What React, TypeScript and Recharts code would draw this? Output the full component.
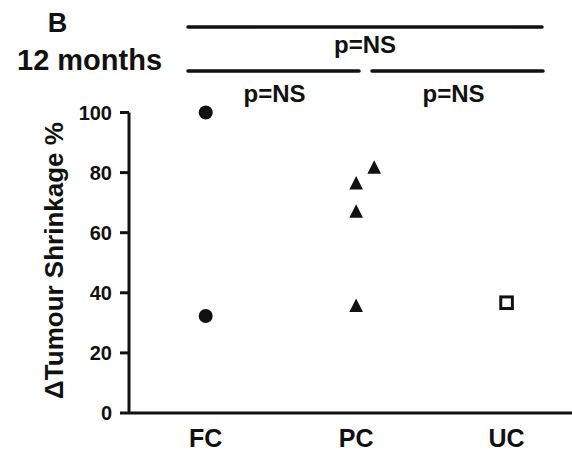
import React from 'react';
import { ScatterChart, Scatter, XAxis, YAxis } from 'recharts';

const categories = ['FC', 'PC', 'UC'];
const yTicks = [0, 20, 40, 60, 80, 100];

const fcX = [1, 1];
const fcValues = [100, 32.3];

const pcX = [2.12, 2, 2, 2];
const pcValues = [81.8, 76.5, 67.1, 35.8];

const ucX = [3];
const ucValues = [36.7];

const panelLabel = 'B';
const timeLabel = '12 months';
const yLabel = '\u0394Tumour Shrinkage %';
const pLabel = 'p=NS';

const toPoints = (xs: number[], ys: number[]) => ys.map((y, i) => ({ x: xs[i], y }));

const fcData = toPoints(fcX, fcValues);
const pcData = toPoints(pcX, pcValues);
const ucData = toPoints(ucX, ucValues);

const FONT = '"Liberation Sans", Arial, Helvetica, sans-serif';
const INK = '#111';

const Circle = (props: any) => {
  const { cx, cy } = props;
  return <circle cx={cx} cy={cy} r={7} fill={INK} />;
};

const Triangle = (props: any) => {
  const { cx, cy } = props;
  return (
    <polygon
      points={`${cx},${cy - 7} ${cx + 6.8},${cy + 6.5} ${cx - 6.8},${cy + 6.5}`}
      fill={INK}
    />
  );
};

const Square = (props: any) => {
  const { cx, cy } = props;
  return (
    <rect x={cx - 5.8} y={cy - 5.8} width={11.6} height={11.6} fill="#fff" stroke={INK} strokeWidth={3} />
  );
};

export default function App() {
  return (
    <div style={{ position: 'absolute', left: 0, top: 0, width: 572, height: 453, background: '#fff' }}>
      <ScatterChart
        width={572}
        height={453}
        margin={{ top: 112.5, right: 0, bottom: 0, left: 0 }}
        style={{ fontFamily: FONT }}
      >
        <XAxis
          type="number"
          dataKey="x"
          domain={[0.49, 3.435]}
          allowDataOverflow
          ticks={[1, 2, 3]}
          tickFormatter={(v: number) => categories[Math.round(v) - 1]}
          height={40}
          tickLine={false}
          tickSize={0}
          tickMargin={16}
          axisLine={{ stroke: INK, strokeWidth: 3 }}
          tick={{ fill: INK, fontSize: 25, fontWeight: 700, fontFamily: FONT }}
        />
        <YAxis
          type="number"
          dataKey="y"
          domain={[0, 100]}
          ticks={yTicks}
          width={129}
          tickSize={9}
          tickMargin={8}
          axisLine={{ stroke: INK, strokeWidth: 3 }}
          tickLine={{ stroke: INK, strokeWidth: 3 }}
          tick={{ fill: INK, fontSize: 20, fontWeight: 700, fontFamily: FONT }}
        />
        <Scatter data={fcData} shape={Circle} isAnimationActive={false} />
        <Scatter data={pcData} shape={Triangle} isAnimationActive={false} />
        <Scatter data={ucData} shape={Square} isAnimationActive={false} />
      </ScatterChart>
      <svg
        width={572}
        height={453}
        style={{ position: 'absolute', left: 0, top: 0, pointerEvents: 'none' }}
        fontFamily={FONT}
        fontWeight={700}
        fill={INK}
      >
        <text x={57.5} y={32} fontSize={27} textAnchor="middle">{panelLabel}</text>
        <text x={17} y={70} fontSize={29}>{timeLabel}</text>
        <g stroke={INK} strokeWidth={3.5} strokeLinecap="round">
          <line x1={188} y1={27} x2={542} y2={27} />
          <line x1={188} y1={71} x2={359} y2={71} />
          <line x1={372} y1={71} x2={543} y2={71} />
        </g>
        <text x={365} y={53} fontSize={24} textAnchor="middle">{pLabel}</text>
        <text x={274.5} y={102} fontSize={24} textAnchor="middle">{pLabel}</text>
        <text x={453.5} y={102} fontSize={24} textAnchor="middle">{pLabel}</text>
        <text
          x={63}
          y={260.5}
          fontSize={26}
          textAnchor="middle"
          transform="rotate(-90 63 260.5)"
        >
          {yLabel}
        </text>
      </svg>
    </div>
  );
}
